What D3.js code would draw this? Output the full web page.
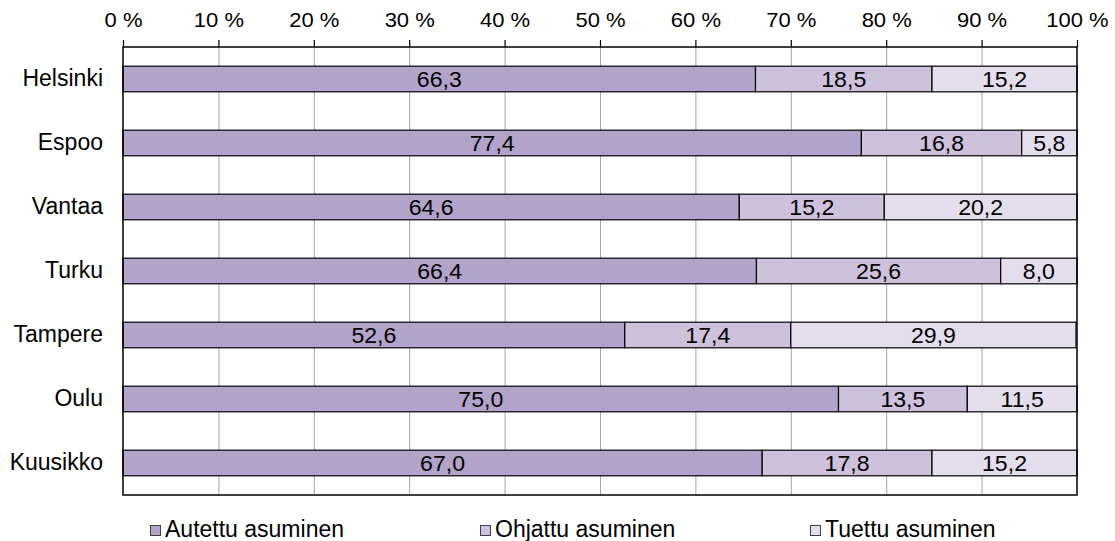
<!DOCTYPE html>
<html><head><meta charset="utf-8">
<script src="https://cdn.jsdelivr.net/npm/d3@7"></script>
<style>body{margin:0;background:#fff}svg{display:block}text{font-family:"Liberation Sans",Arial,sans-serif;fill:#000}</style>
</head><body>
<svg id="c" width="1115" height="541"></svg>
<script>
const categories = ["Helsinki","Espoo","Vantaa","Turku","Tampere","Oulu","Kuusikko"];
const seriesNames = ["Autettu asuminen","Ohjattu asuminen","Tuettu asuminen"];
const autettu = [66.3,77.4,64.6,66.4,52.6,75.0,67.0];
const ohjattu = [18.5,16.8,15.2,25.6,17.4,13.5,17.8];
const tuettu  = [15.2,5.8,20.2,8.0,29.9,11.5,15.2];
const colors = ["#b1a3c9","#cec1dc","#e3ddec"];
const tickValues = [0,10,20,30,40,50,60,70,80,90,100];

const FF = "Liberation Sans, Arial, sans-serif";
const svg = d3.select("#c");
const L=123,R=1077,T=47,B=495;
const x = d3.scaleLinear().domain([0,100]).range([L,R]);
const y = d3.scaleBand().domain(categories).range([T,B]).paddingInner(0.6).paddingOuter(0.3);

// grid
svg.append("g").selectAll("line").data(tickValues.slice(1,-1)).join("line")
  .attr("x1",d=>x(d)+0.5).attr("x2",d=>x(d)+0.5).attr("y1",T).attr("y2",B)
  .attr("stroke","#a6a6a6").attr("stroke-width",1);

const rows = categories.map((c,i)=>({c, vals:[autettu[i],ohjattu[i],tuettu[i]]}));
const fmt = v => v.toFixed(1).replace(".",",");
rows.forEach(r=>{
  let acc=0;
  const segs = r.vals.map((v,k)=>{const s={x0:acc,x1:acc+v,v,k}; acc+=v; return s;});
  const g = svg.append("g");
  g.selectAll("rect").data(segs).join("rect")
    .attr("x",d=>x(d.x0)).attr("width",d=>x(Math.min(d.x1,100))-x(d.x0))
    .attr("y",y(r.c)).attr("height",y.bandwidth())
    .attr("fill",d=>colors[d.k]).attr("stroke","#000").attr("stroke-width",1.2);
  g.selectAll("text").data(segs).join("text")
    .attr("transform",d=>`translate(${(x(d.x0)+x(Math.min(d.x1,100)))/2},${y(r.c)+y.bandwidth()/2}) scale(1.05,1)`)
    .attr("dy","0.36em").attr("text-anchor","middle").attr("font-size",22)
    .text(d=>fmt(d.v));
});

// frame
svg.append("rect").attr("x",L).attr("y",T).attr("width",R-L).attr("height",B-T)
  .attr("fill","none").attr("stroke","#000").attr("stroke-width",1.5);

// top axis
const ax = d3.axisTop(x).tickValues(tickValues).tickFormat(d=>d+" %").tickSize(7).tickSizeOuter(0);
const axg = svg.append("g").attr("transform",`translate(0,${T})`).call(ax);
axg.select(".domain").remove();
axg.selectAll(".tick line").attr("stroke","#000").attr("stroke-width",1.2);
axg.selectAll(".tick text").attr("font-size",20).attr("font-family",FF)
  .attr("y",-20).attr("dy","0em").attr("transform","scale(1.1,1)");

// left axis labels
const ay = d3.axisLeft(y).tickSize(0).tickPadding(20);
const ayg = svg.append("g").attr("transform",`translate(${L},0)`).call(ay);
ayg.select(".domain").remove();
ayg.selectAll(".tick text").attr("font-size",23).attr("font-family",FF);

// legend
const legX = [150,480,810];
const lg = svg.append("g").selectAll("g").data(seriesNames).join("g")
  .attr("transform",(d,i)=>`translate(${legX[i]},537)`);
lg.append("rect").attr("x",0.5).attr("y",-11.5).attr("width",10).attr("height",10)
  .attr("fill",(d,i)=>colors[i]).attr("stroke","#404040").attr("stroke-width",1);
lg.append("text").attr("x",15).attr("y",0).attr("font-size",23).text(d=>d);
</script>
</body></html>
